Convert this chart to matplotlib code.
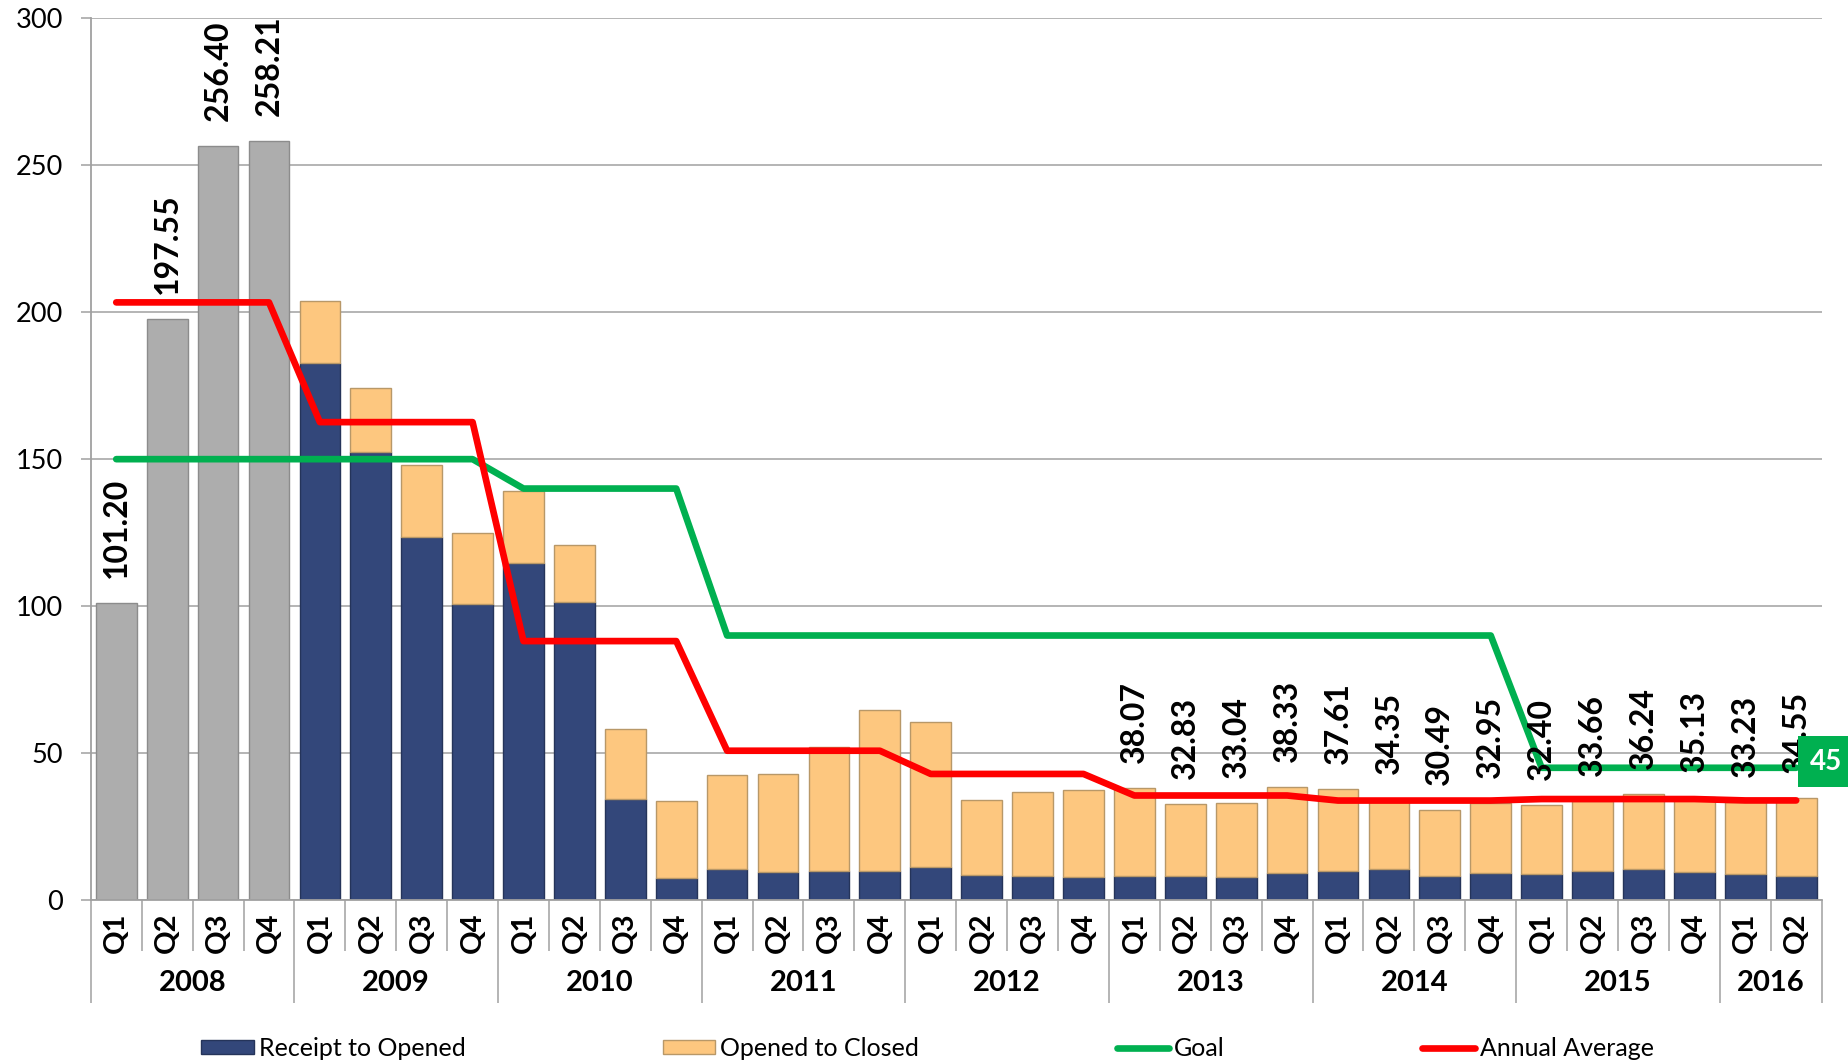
import matplotlib
matplotlib.use("Agg")
import matplotlib.pyplot as plt
from matplotlib.patches import Patch
from matplotlib.lines import Line2D

plt.rcParams['font.family'] = ['Lato', 'DejaVu Sans']

years = ["2008", "2009", "2010", "2011", "2012", "2013", "2014", "2015", "2016"]
quarters_per_year = [4, 4, 4, 4, 4, 4, 4, 4, 2]
quarter_names = ["Q1", "Q2", "Q3", "Q4"]

# 2008 only has the combined (grey) figure
total_2008 = [101.20, 197.55, 256.40, 258.21]

# 2009 Q1 .. 2016 Q2
receipt_to_opened = [182.8, 152.3, 123.4, 100.8,
                     114.8, 101.5, 34.5, 7.5,
                     10.5, 9.7, 10.0, 10.0,
                     11.4, 8.6, 8.1, 7.9,
                     8.3, 8.2, 7.8, 9.1,
                     10.0, 10.4, 8.3, 9.1,
                     8.7, 10.0, 10.4, 9.5,
                     8.7, 8.2]
opened_to_closed = [21.0, 21.8, 24.6, 24.0,
                    24.4, 19.4, 23.8, 26.1,
                    31.9, 33.1, 42.0, 54.6,
                    49.2, 25.4, 28.7, 29.7,
                    29.77, 24.63, 25.24, 29.23,
                    27.61, 23.95, 22.19, 23.85,
                    23.70, 23.66, 25.84, 25.63,
                    24.53, 26.35]

goal = [150, 150, 150, 150, 150, 150, 150, 150,
        140, 140, 140, 140,
        90, 90, 90, 90, 90, 90, 90, 90, 90, 90, 90, 90, 90, 90, 90, 90,
        45, 45, 45, 45, 45, 45]
annual_average = [203.34] * 4 + [162.6] * 4 + [88.1] * 4 + [50.8] * 4 + [42.9] * 4 \
    + [35.57] * 4 + [33.85] * 4 + [34.36] * 4 + [33.89] * 2

# data labels shown on the chart (None = no label)
label_values = [101.20, 197.55, 256.40, 258.21] + [None] * 16 + \
    [38.07, 32.83, 33.04, 38.33,
     37.61, 34.35, 30.49, 32.95,
     32.40, 33.66, 36.24, 35.13,
     33.23, 34.55]

GREY = '#ADADAD'
NAVY = '#33477A'
PEACH = '#FDC77F'
GREEN = '#00B050'
RED = '#FF0000'
GRID = '#A0A0A0'

fig = plt.figure(figsize=(18.49, 10.63), dpi=100)
ax = fig.add_axes([0.0491, 0.1533, 0.9852 - 0.0491, 0.9828 - 0.1533])

n = len(goal)
x = list(range(n))
x_grey = x[:4]
x_split = x[4:]

ax.bar(x_grey, total_2008, width=0.8, color=GREY, edgecolor='#8C8C8C', linewidth=1, zorder=2)
ax.bar(x_split, receipt_to_opened, width=0.8, color=NAVY, edgecolor='#25345A', linewidth=1, zorder=2)
ax.bar(x_split, opened_to_closed, bottom=receipt_to_opened, width=0.8, color=PEACH,
       edgecolor='#B89868', linewidth=1, zorder=2)

ax.plot(x, goal, color=GREEN, lw=4.8, solid_capstyle='round', solid_joinstyle='round', zorder=3)
ax.plot(x, annual_average, color=RED, lw=4.8, solid_capstyle='round', solid_joinstyle='round', zorder=4)

for i, v in enumerate(label_values):
    if v is None:
        continue
    ax.annotate(f"{v:.2f}", (i, v), xytext=(0, 25), textcoords='offset pixels',
                rotation=90, ha='center', va='bottom', fontsize=23, fontweight='bold',
                color='black', zorder=6)

# goal value badge
ax.annotate(str(goal[-1]), (x[-1], goal[-1]), xytext=(30, 6), textcoords='offset pixels',
            ha='center', va='center', fontsize=20, fontweight='bold', color='white',
            bbox=dict(boxstyle='square,pad=0.45', fc=GREEN, ec='none'),
            annotation_clip=False, zorder=7)

ax.set_xlim(-0.5, n - 0.5)
ax.set_ylim(0, 300)
ax.set_yticks(range(0, 301, 50))
ax.tick_params(axis='y', length=7, width=1.1, color=GRID, pad=13, labelsize=19.5)
ax.yaxis.grid(True, color=GRID, lw=1.1)
ax.set_axisbelow(True)
for s in ['top', 'right']:
    ax.spines[s].set_visible(False)
ax.spines['left'].set_color(GRID)
ax.spines['left'].set_linewidth(1.3)
ax.spines['bottom'].set_color(GRID)
ax.spines['bottom'].set_linewidth(1.3)

q_labels = []
for cnt in quarters_per_year:
    q_labels += quarter_names[:cnt]
ax.set_xticks(x)
ax.set_xticklabels(q_labels, rotation=90, fontsize=21, fontweight='bold')
ax.tick_params(axis='x', length=0, pad=9)

# category separators and year labels
xt = ax.get_xaxis_transform()
start = 0
year_edges = [-0.5]
for yr, cnt in zip(years, quarters_per_year):
    ax.text(start + (cnt - 1) / 2, -0.094, yr, transform=xt, ha='center', va='center',
            fontsize=21, fontweight='bold')
    ax.vlines([start + k - 0.5 for k in range(1, cnt)], -0.0575, 0, transform=xt,
              color=GRID, lw=1.1, clip_on=False)
    start += cnt
    year_edges.append(start - 0.5)
ax.vlines(year_edges, -0.1165, 0, transform=xt, color=GRID, lw=1.1, clip_on=False)

handles = [Patch(facecolor=NAVY, edgecolor='#25345A'),
           Patch(facecolor=PEACH, edgecolor='#B89868'),
           Line2D([0], [0], color=GREEN, lw=4.8, solid_capstyle='round'),
           Line2D([0], [0], color=RED, lw=4.8, solid_capstyle='round')]
names = ["Receipt to Opened", "Opened to Closed", "Goal", "Annual Average"]
fig.legend(handles, names, loc='center', bbox_to_anchor=(0.5016, 0.0141), ncol=4,
           frameon=False, fontsize=18, handlelength=2.1, handleheight=0.5,
           handletextpad=0.2, columnspacing=7.9)

fig.savefig("out.png", dpi=100)
